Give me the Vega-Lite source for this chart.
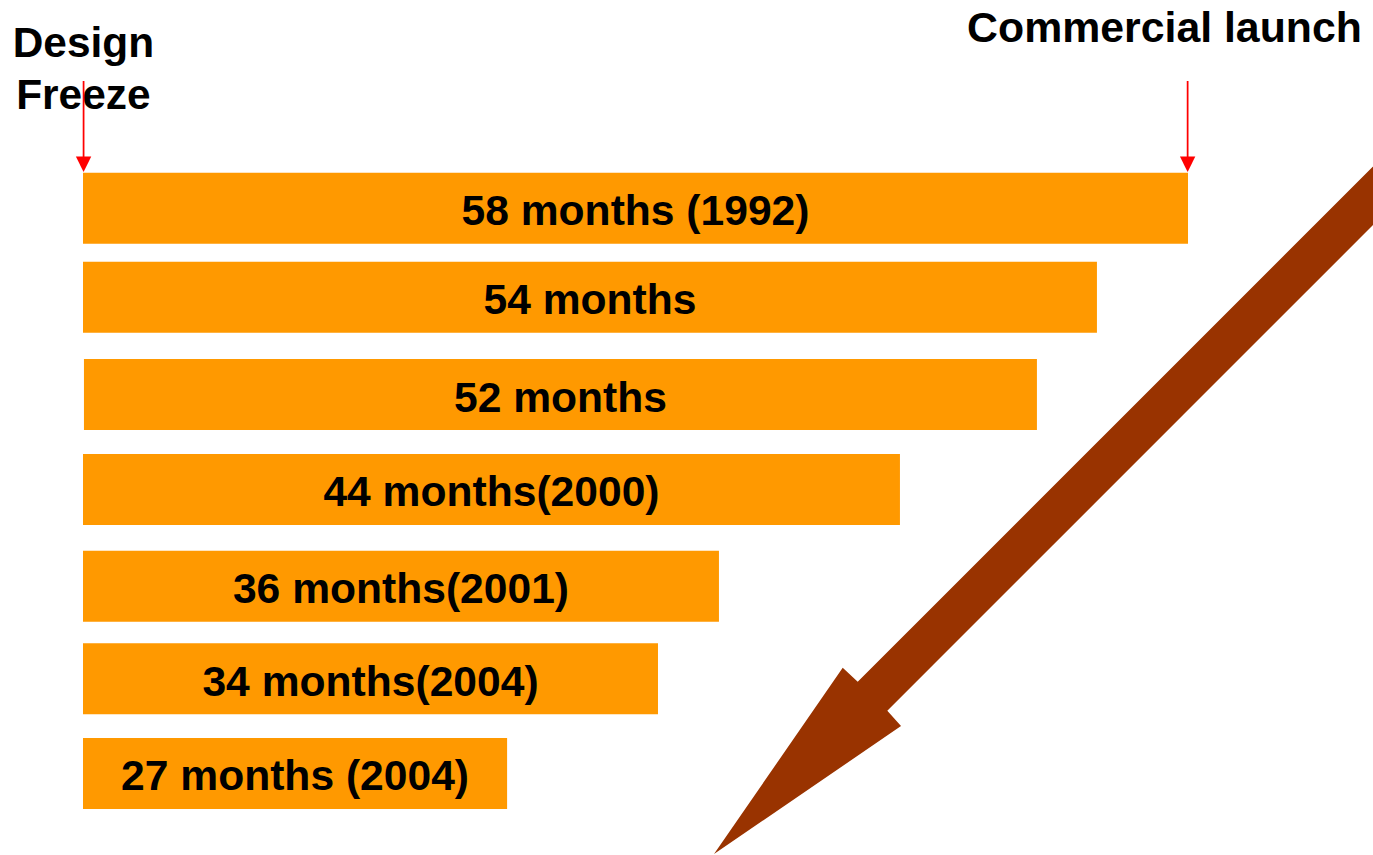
{
  "$schema": "https://vega.github.io/schema/vega-lite/v6.json",
  "width": 1373,
  "height": 855,
  "autosize": "none",
  "padding": 0,
  "background": "white",
  "config": {"view": {"stroke": null}, "axis": {"disable": true}},
  "datasets": {
    "bars": [
      {"label": "58 months (1992)", "months": 58, "start": 0, "extent": 58, "slot": 1},
      {"label": "54 months", "months": 54, "start": 0, "extent": 53.22, "slot": 1.946},
      {"label": "52 months", "months": 52, "start": 0.05, "extent": 50.07, "slot": 2.978},
      {"label": "44 months(2000)", "months": 44, "start": 0, "extent": 42.88, "slot": 3.986},
      {"label": "36 months(2001)", "months": 36, "start": 0, "extent": 33.38, "slot": 5.014},
      {"label": "34 months(2004)", "months": 34, "start": 0, "extent": 30.18, "slot": 5.995},
      {"label": "27 months (2004)", "months": 27, "start": 0, "extent": 22.26, "slot": 7.001}
    ],
    "one": [{"k": 1}]
  },
  "layer": [
    {
      "data": {"name": "bars"},
      "mark": {"type": "bar", "orient": "horizontal", "height": 71, "color": "#FF9900"},
      "encoding": {
        "x": {"field": "start", "type": "quantitative", "scale": {"domain": [-4.3566, 67.7097], "nice": false, "zero": false, "padding": 0}, "axis": null},
        "x2": {"field": "extent"},
        "y": {"field": "slot", "type": "quantitative", "scale": {"domain": [-1.2102, 7.8662], "nice": false, "zero": false, "reverse": true, "padding": 0}, "axis": null}
      }
    },
    {
      "data": {"name": "bars"},
      "transform": [
        {"fold": ["start", "extent"]},
        {"aggregate": [{"op": "mean", "field": "value", "as": "mid"}], "groupby": ["label", "slot"]}
      ],
      "mark": {"type": "text", "font": "Liberation Sans", "fontWeight": "bold", "fontSize": 42.6, "align": "center", "baseline": "alphabetic", "dy": 17, "color": "black"},
      "encoding": {
        "x": {"field": "mid", "type": "quantitative"},
        "y": {"field": "slot", "type": "quantitative"},
        "text": {"field": "label"}
      }
    },
    {
      "data": {"name": "one"},
      "mark": {"type": "text", "font": "Liberation Sans", "fontWeight": "bold", "fontSize": 42.4, "align": "center", "baseline": "alphabetic", "lineHeight": 52, "lineBreak": "\n", "color": "black"},
      "encoding": {
        "x": {"datum": 0.02, "type": "quantitative"},
        "y": {"datum": -0.6051, "type": "quantitative"},
        "text": {"value": "Design\nFreeze"}
      }
    },
    {
      "data": {"name": "one"},
      "mark": {"type": "text", "font": "Liberation Sans", "fontWeight": "bold", "fontSize": 42.8, "align": "center", "baseline": "alphabetic", "color": "black"},
      "encoding": {
        "x": {"datum": 56.765, "type": "quantitative"},
        "y": {"datum": -0.7643, "type": "quantitative"},
        "text": {"value": "Commercial launch"}
      }
    },
    {
      "data": {"name": "one"},
      "mark": {"type": "rule", "color": "#FF0000", "strokeWidth": 1.75},
      "encoding": {
        "x": {"datum": 0.03, "type": "quantitative"},
        "y": {"datum": -0.3503, "type": "quantitative"},
        "y2": {"datum": 0.5}
      }
    },
    {
      "data": {"name": "one"},
      "mark": {"type": "rule", "color": "#FF0000", "strokeWidth": 1.75},
      "encoding": {
        "x": {"datum": 57.98, "type": "quantitative"},
        "y": {"datum": -0.3503, "type": "quantitative"},
        "y2": {"datum": 0.5}
      }
    },
    {
      "data": {"name": "one"},
      "mark": {"type": "point", "shape": "M-1,-2L1,-2L0,0Z", "size": 237, "filled": true, "opacity": 1, "color": "#FF0000", "strokeWidth": 0},
      "encoding": {
        "x": {"datum": 0.03, "type": "quantitative"},
        "y": {"datum": 0.6157, "type": "quantitative"}
      }
    },
    {
      "data": {"name": "one"},
      "mark": {"type": "point", "shape": "M-1,-2L1,-2L0,0Z", "size": 237, "filled": true, "opacity": 1, "color": "#FF0000", "strokeWidth": 0},
      "encoding": {
        "x": {"datum": 57.98, "type": "quantitative"},
        "y": {"datum": 0.6157, "type": "quantitative"}
      }
    },
    {
      "data": {"name": "one"},
      "mark": {"type": "point", "shape": "M-1.585,1.578L-0.298,-0.285L-0.148,-0.145L5.452,-5.745L5.748,-5.455L0.148,0.145L0.285,0.298Z", "size": 40000, "filled": true, "opacity": 1, "color": "#993300", "strokeWidth": 0},
      "encoding": {
        "x": {"datum": 41.44, "type": "quantitative"},
        "y": {"datum": 6.181, "type": "quantitative"}
      }
    }
  ]
}
